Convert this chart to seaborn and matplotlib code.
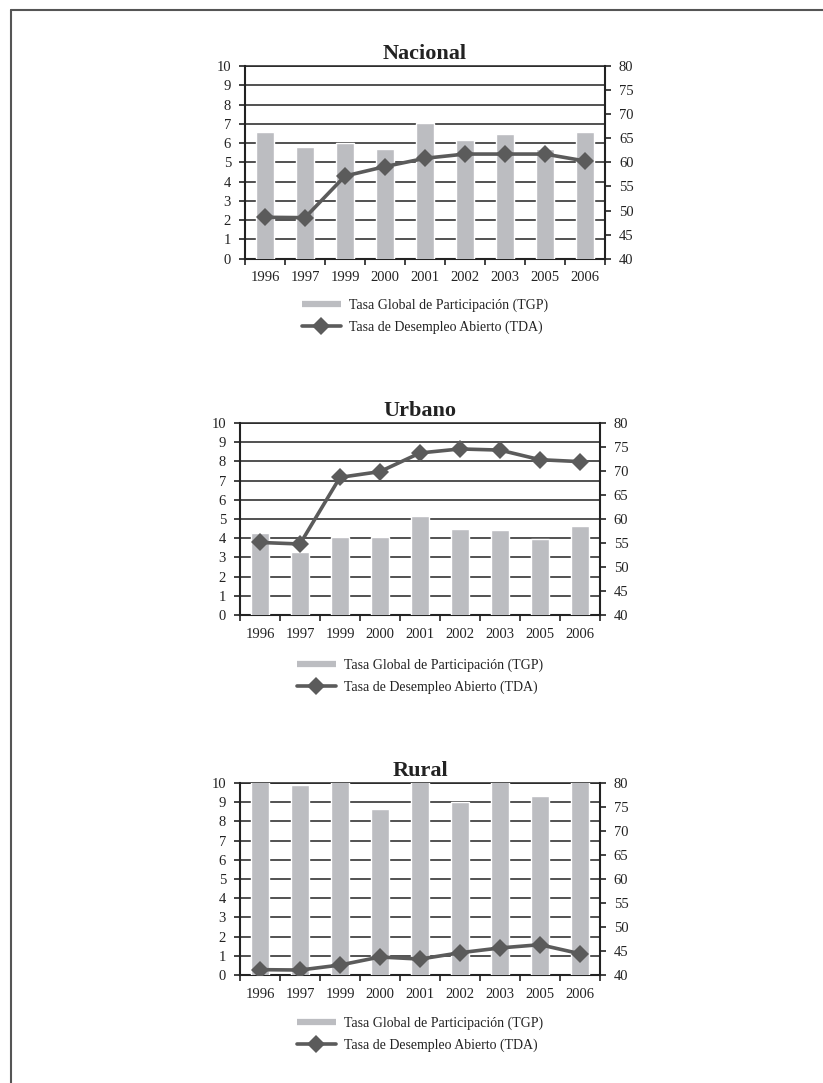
import numpy as np
import pandas as pd
import seaborn as sns
import matplotlib.pyplot as plt
from matplotlib.lines import Line2D
from matplotlib.ticker import FixedLocator

# years shown on the x axis
years = ['1996', '1997', '1999', '2000', '2001', '2002', '2003', '2005', '2006']

# Tasa Global de Participacion (bars, right axis 40-80)
nacional_tgp = [66.3, 63.2, 64.1, 62.8, 68.2, 64.6, 65.9, 62.8, 66.3]
urbano_tgp = [57.0, 53.2, 56.3, 56.3, 60.6, 58.0, 57.8, 55.8, 58.6]
rural_tgp = [81.0, 79.5, 81.0, 74.6, 81.0, 76.0, 81.0, 77.2, 81.0]

# Tasa de Desempleo Abierto (line, left axis 0-10)
nacional_tda = [2.15, 2.13, 4.29, 4.78, 5.21, 5.43, 5.43, 5.43, 5.07]
urbano_tda = [3.78, 3.70, 7.17, 7.47, 8.44, 8.65, 8.59, 8.09, 7.99]
rural_tda = [0.28, 0.26, 0.52, 0.94, 0.83, 1.16, 1.41, 1.58, 1.11]

lab_tgp = 'Tasa Global de Participación (TGP)'
lab_tda = 'Tasa de Desempleo Abierto (TDA)'

sns.set_theme(style='white')
plt.rcParams['font.family'] = ['Liberation Serif', 'DejaVu Serif']

bar_col = '#bcbdc1'
line_col = '#5b5b5b'
ink = '#222222'

fig = plt.figure(figsize=(8.23, 10.83), dpi=100)


def panel(rect, title, tgp, tda, leg_y):
    df = pd.DataFrame({'year': years, 'tgp': tgp, 'tda': tda})
    ax = fig.add_axes(rect)      # left scale + grid
    ax2 = ax.twinx()             # bars, right scale
    ax3 = ax.twinx()             # line, left scale
    ax.set_zorder(0)
    ax2.set_zorder(1)
    ax3.set_zorder(2)
    ax2.patch.set_visible(False)
    ax3.patch.set_visible(False)

    sns.barplot(data=df, x='year', y='tgp', ax=ax2, color=bar_col,
                width=0.45, saturation=1)
    sns.pointplot(data=df, x='year', y='tda', ax=ax3, color=line_col,
                  marker='D', markersize=9, markeredgewidth=0,
                  linewidth=2.6, errorbar=None)

    ax.set_xlim(-0.5, 8.5)
    ax.set_ylim(0, 10)
    ax2.set_ylim(40, 80)
    ax3.set_ylim(0, 10)

    ax.set_yticks(range(0, 11))
    ax.yaxis.grid(True, color=ink, lw=1.1)
    ax.set_axisbelow(True)
    ax2.set_yticks(range(40, 81, 5))
    ax2.grid(False)
    ax3.grid(False)

    ax.set_xticks(range(len(years)), years)
    ax.xaxis.set_minor_locator(FixedLocator(np.arange(-0.5, 9, 1)))
    ax.tick_params(axis='x', which='major', length=0, pad=9,
                   labelsize=10.5, labelcolor=ink)
    ax.tick_params(axis='x', which='minor', bottom=True, length=4,
                   width=1.2, color=ink, direction='out')
    ax.tick_params(axis='y', left=True, length=4, width=1.2, color=ink,
                   pad=6, labelsize=10.5, labelcolor=ink)
    ax2.tick_params(axis='y', right=True, length=4, width=1.2, color=ink,
                    pad=6, labelsize=10.5, labelcolor=ink)

    for s in ['left', 'bottom', 'top']:
        ax.spines[s].set_color(ink)
        ax.spines[s].set_linewidth(1.5)
    ax.spines['top'].set_linewidth(1.1)
    ax.spines['right'].set_visible(False)
    for s in ['left', 'bottom', 'top']:
        ax2.spines[s].set_visible(False)
    ax2.spines['right'].set_color(ink)
    ax2.spines['right'].set_linewidth(1.5)
    for s in ax3.spines.values():
        s.set_visible(False)
    ax3.yaxis.set_visible(False)

    ax.set_xlabel('')
    ax.set_ylabel('')
    ax2.set_ylabel('')
    ax2.set_xlabel('')

    ax.set_title(title, fontsize=16, fontweight='bold', color=ink, pad=5)

    handles = [Line2D([0], [0], color=bar_col, lw=4.5, solid_capstyle='butt'),
               Line2D([0], [0], color=line_col, lw=2.6, marker='D', ms=9,
                      mew=0)]
    leg = ax.legend(handles, [lab_tgp, lab_tda], loc='center',
                    bbox_to_anchor=(0.5, leg_y), frameon=False, fontsize=10,
                    handlelength=2.8, labelspacing=0.6, handletextpad=0.6)
    for t in leg.get_texts():
        t.set_color(ink)


panel([0.2977, 0.7611, 0.4374, 0.1780], 'Nacional', nacional_tgp, nacional_tda, -0.30)
panel([0.2916, 0.4321, 0.4374, 0.1773], 'Urbano', urbano_tgp, urbano_tda, -0.32)
panel([0.2916, 0.0997, 0.4374, 0.1773], 'Rural', rural_tgp, rural_tda, -0.31)

# page frame (left and top)
fig.add_artist(Line2D([0.0134, 0.0134], [0, 0.9908], transform=fig.transFigure,
                      color='#555555', lw=1.5))
fig.add_artist(Line2D([0.0134, 1], [0.9908, 0.9908], transform=fig.transFigure,
                      color='#555555', lw=1.5))

fig.savefig('out.png', dpi=100)
